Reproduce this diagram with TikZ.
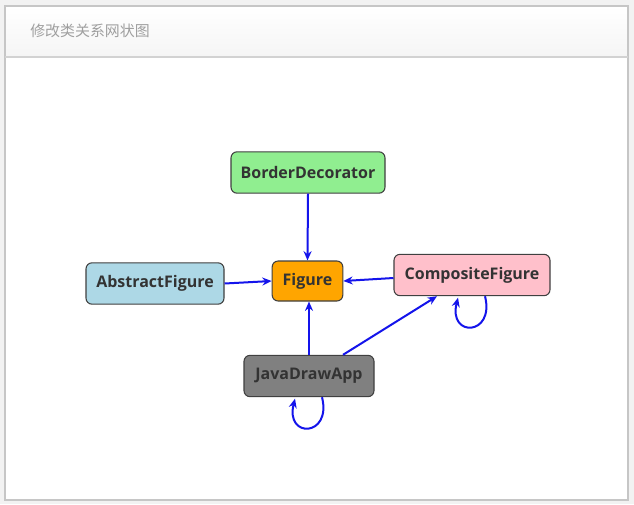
\documentclass[tikz,border=0pt]{standalone}
\usepackage{fontspec}
\setmainfont{Open Sans}
\newfontfamily\cjk{Noto Sans CJK SC}
\usetikzlibrary{arrows.meta,calc}
\begin{document}
\begin{tikzpicture}[x=0.75pt,y=-0.75pt,
  cls/.style={draw=black!75,line width=0.8pt,rounded corners=4.5pt,minimum height=31pt,
    inner xsep=6pt,font=\fontsize{12pt}{14pt}\selectfont\bfseries,text=black!80},
  rel/.style={draw={rgb,255:red,20;green,20;blue,235},line width=1.5pt,
    -{Stealth[length=7pt,width=6pt]}}]
\useasboundingbox (0,0) rectangle (634,504);
\fill[gray!10] (0,0) rectangle (634,504);
\shade[top color=white,bottom color=gray!8] (5,6) rectangle (628,57);
\fill[white] (5,57) rectangle (628,500);
\draw[gray!45,line width=0.8pt] (5,6) rectangle (628,500);
\draw[gray!35,line width=0.8pt] (5,57) -- (628,57);
\node[anchor=west,inner sep=0pt,text=gray!75,font=\cjk\fontsize{11.2pt}{13pt}\selectfont] (title) at (30,31) {修改类关系网状图};

\node[cls,fill={rgb,255:red,144;green,238;blue,144},minimum width=115.5pt] (bd) at (308,172.5) {BorderDecorator};
\node[cls,fill={rgb,255:red,255;green,165;blue,0},minimum width=53pt,minimum height=30pt] (fig) at (307.5,281) {Figure};
\node[cls,fill={rgb,255:red,173;green,216;blue,230},minimum width=103.5pt] (af) at (155,283.5) {AbstractFigure};
\node[cls,fill={rgb,255:red,255;green,192;blue,203},minimum width=117pt] (cf) at (472,275) {CompositeFigure};
\node[cls,fill={rgb,255:red,128;green,128;blue,128},minimum width=97.5pt] (jd) at (309,376) {JavaDrawApp};

\draw[rel] (bd.south) -- (fig.north);
\draw[rel] (af.east) -- (fig.west);
\draw[rel] ($(cf.west)+(0,3)$) -- (fig.east);
\draw[rel] ($(jd.north)+(0,0)$) -- ($(fig.south)+(1.5,0)$);
\draw[rel] ($(jd.north)+(34,0)$) -- ($(cf.south)+(-35,0)$);
\draw[rel] ($(cf.south)+(13,0)$) .. controls +(10,40) and +(-10,40) .. ($(cf.south)+(-14,1.5)$);
\draw[rel] ($(jd.south)+(13,0)$) .. controls +(10,40) and +(-10,40) .. ($(jd.south)+(-14,1.5)$);
\end{tikzpicture}
\end{document}
